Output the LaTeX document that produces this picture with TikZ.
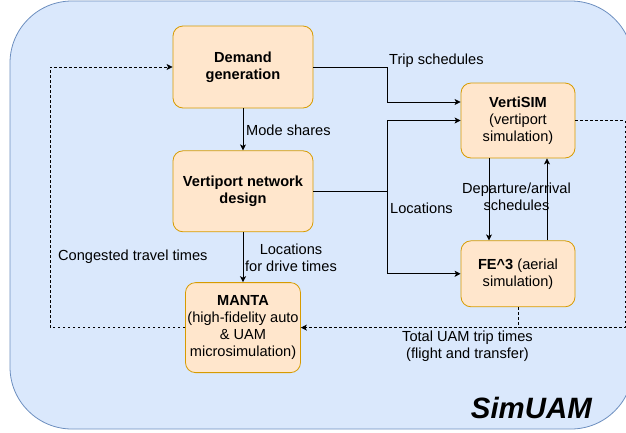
\documentclass[tikz,border=0pt]{standalone}
\usepackage{fontspec}
\setmainfont{Liberation Sans}
\usetikzlibrary{positioning, arrows.meta}

\definecolor{panelfill}{HTML}{DAE8FC}
\definecolor{paneldraw}{HTML}{6C8EBF}
\definecolor{boxfill}{HTML}{FFE6CC}
\definecolor{boxdraw}{HTML}{D79B00}

\begin{document}
\begin{tikzpicture}[x=1pt, y=1pt]
      % Define styles for nodes
      \tikzset{
        simnode/.style={rectangle, rounded corners=10pt, draw=boxdraw, fill=boxfill, line width=0.8pt, align=center, inner sep=1pt, font=\fontsize{14.6}{17}\selectfont},
        annotation/.style={inner sep=0pt, align=center, font=\fontsize{14.6}{17}\selectfont},
        flow/.style={draw=black, line width=0.8pt, -{Stealth[length=6pt, width=6pt, inset=1.5pt]}},
        feedback/.style={flow, dash pattern=on 2.5pt off 2.5pt}
      }
      \useasboundingbox (0,0) rectangle (626,-432);

      % Background panel
      \draw[fill=panelfill, draw=paneldraw, line width=0.8pt, rounded corners=62pt] (10,-1) rectangle (633,-429);
      \node[anchor=base east, inner sep=0pt, font=\fontsize{29.4}{30}\selectfont\bfseries\itshape] (title) at (592,-418) {SimUAM};

      % Create the model boxes
      \node[simnode, minimum width=140pt, minimum height=82pt] (demand) at (243,-67) {\textbf{Demand}\\\textbf{generation}};
      \node[simnode, minimum width=140pt, minimum height=81pt, below=42pt of demand] (design) {\textbf{Vertiport network}\\\textbf{design}};
      \node[simnode, minimum width=115pt, minimum height=90pt, below=50pt of design] (manta) {\textbf{MANTA}\\(high-fidelity auto\\\& UAM\\microsimulation)};
      \node[simnode, minimum width=114pt, minimum height=75pt] (vertisim) at (518,-120.5) {\textbf{VertiSIM}\\(vertiport\\simulation)};
      \node[simnode, minimum width=114pt, minimum height=66pt, below=82pt of vertisim] (fe) {\textbf{FE\textasciicircum 3} (aerial\\simulation)};

      % Bend points of the connectors
      \coordinate (junction) at (387,0);
      \coordinate (leftrail) at (50,0);
      \coordinate (rightrail) at (625,0);

      % Draw the edges connecting the boxes
      \draw[flow] (demand) -- (design);
      \draw[flow] (design) -- (manta);
      \draw[flow] (demand.east) -- (demand.east -| junction) |- ([yshift=18.5pt]vertisim.west);
      \draw[flow] (design.east) -- (design.east -| junction) |- (vertisim.west);
      \draw[flow] (design.east -| junction) |- (fe.west);
      \draw[flow] ([xshift=-29pt]vertisim.south) -- ([xshift=-29pt]fe.north);
      \draw[flow] ([xshift=29pt]fe.north) -- ([xshift=29pt]vertisim.south);
      \draw[feedback] (vertisim.east) -- (vertisim.east -| rightrail) |- (manta.east);
      \draw[feedback, -] (fe.south) -- (fe.south |- manta.east);
      \draw[feedback] (manta.west) -- (manta.west -| leftrail) |- (demand.west);

      % Add annotations next to the edges
      \node[annotation, anchor=base west] (tripnote) at (389,-64) {Trip schedules};
      \node[annotation, anchor=base west] (modenote) at (246,-135) {Mode shares};
      \node[annotation, anchor=base west] (locnote) at (390,-213) {Locations};
      \node[annotation] (drivenote) at (291,-258) {Locations\\for drive times};
      \node[annotation] (schednote) at (516.5,-197) {Departure/arrival\\schedules};
      \node[annotation, anchor=base west] (congnote) at (58,-260) {Congested travel times};
      \node[annotation] (uamnote) at (467.5,-346) {Total UAM trip times\\(flight and transfer)};
\end{tikzpicture}
\end{document}
